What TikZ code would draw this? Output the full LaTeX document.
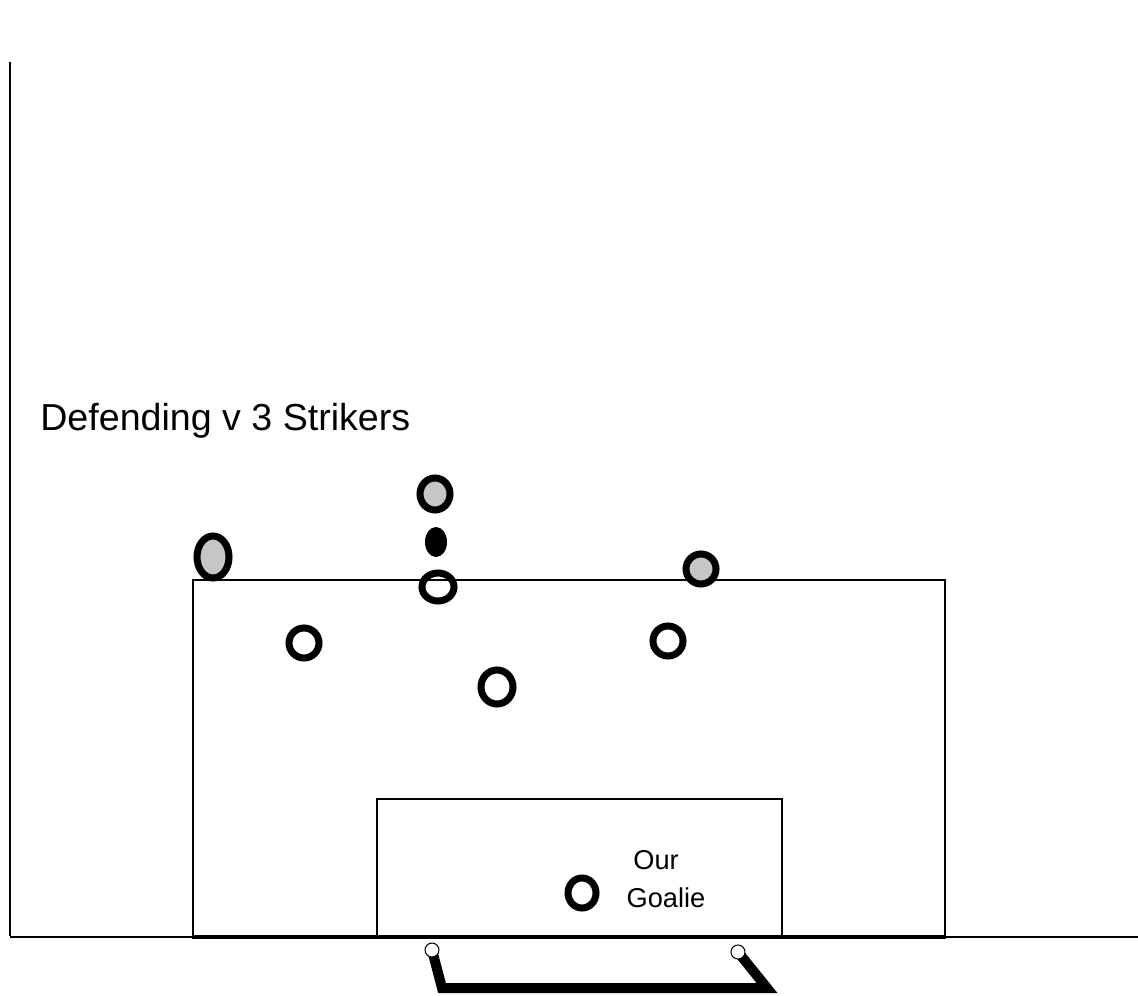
\documentclass[tikz,border=0pt]{standalone}
\usepackage{fontspec}
\setmainfont{Liberation Sans}
\usetikzlibrary{positioning}

\tikzset{
    striker/.style={draw, line width=4pt, fill=gray!45},
    defender/.style={draw, line width=4pt},
    pitchline/.style={line width=0.8pt},
}

\begin{document}
\begin{tikzpicture}[x=0.02cm, y=-0.02cm]
    \useasboundingbox (0,0) rectangle (1138,996);
    % pitch edges
    \draw[pitchline] (10,62) -- (10,936);
    \draw[pitchline] (10,937) -- (1138,937);
    % penalty area and goal area
    \draw[pitchline] (193,580) rectangle (945,938);
    \draw[pitchline] (377,799) rectangle (782,938);
    \draw[line width=2pt] (193,937) -- (945,937);
    % title
    \node[anchor=base west, inner sep=0pt, font=\fontsize{21.4}{26}\selectfont] (title) at (40,430) {Defending v 3 Strikers};
    % strikers
    \path[striker] (213,557) ellipse (16 and 21);
    \path[striker] (435,494) ellipse (15 and 16);
    \path[striker] (701,569) ellipse (15 and 15);
    % ball
    \fill (436,542) ellipse (11 and 15);
    % defenders
    \path[defender] (438,587) ellipse (16 and 14);
    \path[defender] (304,643) ellipse (15 and 15);
    \path[defender] (668,641) ellipse (15 and 15);
    \path[defender] (497,687) ellipse (16 and 17);
    % goalie
    \path[defender] (582,893) ellipse (14 and 15);
    \node[font=\fontsize{15.5}{18}\selectfont, inner sep=0pt] (our) at (656,860) {Our};
    \node[font=\fontsize{15.5}{18}\selectfont, inner sep=0pt, below=21.5pt of our.base, anchor=base, xshift=0.2cm] (goalie) {Goalie};
    % goal
    \coordinate (postl) at (432,950);
    \coordinate (postr) at (738,952);
    \draw[line width=5.7pt] (postl) -- (442,988) -- (767,988) -- (postr);
    \draw[line width=0.6pt, fill=white] (postl) circle (7);
    \draw[line width=0.6pt, fill=white] (postr) circle (7);
\end{tikzpicture}
\end{document}
